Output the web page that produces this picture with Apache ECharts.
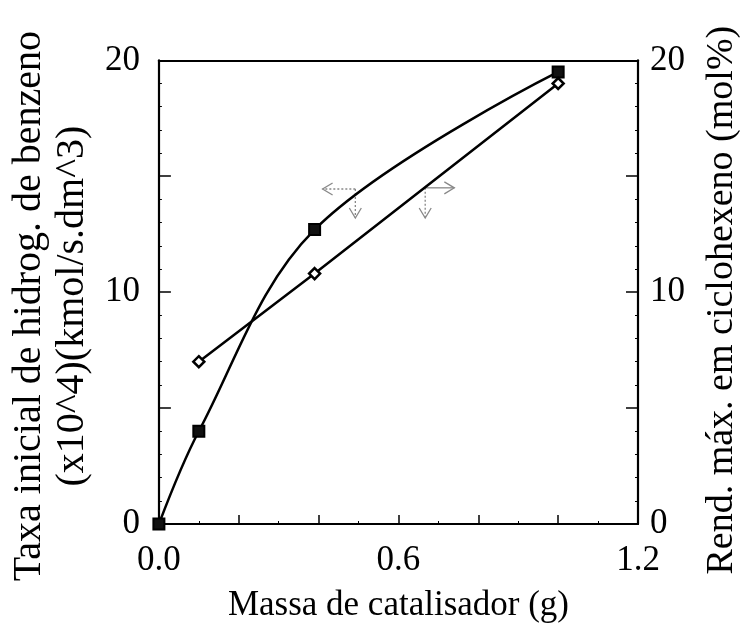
<!DOCTYPE html>
<html>
<head>
<meta charset="utf-8">
<script src="https://cdn.jsdelivr.net/npm/echarts@6/dist/echarts.min.js"></script>
<style>html,body{margin:0;padding:0;background:#fff}#c{width:749px;height:629px}</style>
</head>
<body>
<div id="c"></div>
<script>
// Data
const massa = [0.0, 0.1, 0.39, 1.0];              // x values (g) for rate series
const taxa = [0.0, 4.0, 12.7, 19.5];              // left axis: initial rate
const massaRend = [0.1, 0.39, 1.0];               // x values for yield series
const rend = [7.0, 10.8, 19.0];                   // right axis: max yield
const yTicks = [0, 10, 20];
const xTicks = [0.0, 0.6, 1.2];
// annotation arrows: [x0, y0, xEndHorizontal, yEndVertical]
const arrows = [
  [0.492, 14.45, 0.41, 13.2],
  [0.667, 14.5, 0.74, 13.2]
];

const FONT = 'Liberation Serif';
const chart = echarts.init(document.getElementById('c'), null, {renderer: 'canvas'});

const yLabelFmt = v => (yTicks.indexOf(v) >= 0 ? String(v) : '');
const xLabelFmt = v => {
  for (const t of xTicks) if (Math.abs(v - t) < 1e-6) return t.toFixed(1);
  return '';
};

const lineCol = '#000';
const axisLine = {show: true, onZero: false, lineStyle: {color: lineCol, width: 2.2}};
const minor = n => ({show: true, splitNumber: n, length: 3, lineStyle: {color: '#000', width: 1}});
const labelStyle = {color: '#000', fontFamily: FONT, fontSize: 35};

chart.setOption({
  animation: false,
  backgroundColor: '#fff',
  grid: {left: 156, top: 44, right: 109, bottom: 105, containLabel: false},
  xAxis: [
    {
      type: 'value', min: 0, max: 1.2, interval: 0.2, position: 'bottom',
      axisLine: axisLine,
      axisTick: {show: true, inside: true, length: 9, lineStyle: {color: '#000', width: 1.5}},
      minorTick: minor(2),
      splitLine: {show: false},
      axisLabel: Object.assign({}, labelStyle, {formatter: xLabelFmt, margin: 19, showMinLabel: true, showMaxLabel: true}),
      name: 'Massa de catalisador (g)', nameLocation: 'middle', nameGap: 64,
      nameTextStyle: {color: '#000', fontFamily: FONT, fontSize: 35}
    },
    {
      type: 'value', min: 0, max: 1.2, position: 'top',
      axisLine: axisLine,
      axisTick: {show: false}, axisLabel: {show: false}, splitLine: {show: false}
    }
  ],
  yAxis: [
    {
      type: 'value', min: 0, max: 20, interval: 5, position: 'left',
      axisLine: axisLine,
      axisTick: {show: true, inside: true, length: 12, lineStyle: {color: '#000', width: 1.5}},
      minorTick: minor(5),
      splitLine: {show: false},
      axisLabel: Object.assign({}, labelStyle, {formatter: yLabelFmt, margin: 19}),
      name: 'Taxa inicial de hidrog. de benzeno\n(x10^4)(kmol/s.dm^3)', nameLocation: 'middle', nameGap: 62,
      nameTextStyle: {color: '#000', fontFamily: FONT, fontSize: 40, lineHeight: 43, padding: [0, 28, 0, 0]}
    },
    {
      type: 'value', min: 0, max: 20, interval: 5, position: 'right',
      axisLine: axisLine,
      axisTick: {show: true, inside: true, length: 12, lineStyle: {color: '#000', width: 1.5}},
      minorTick: minor(5),
      splitLine: {show: false},
      axisLabel: Object.assign({}, labelStyle, {formatter: yLabelFmt, margin: 12}),
      name: 'Rend. máx. em ciclohexeno (mol%)', nameLocation: 'middle', nameGap: 65,
      nameRotate: 90,
      nameTextStyle: {color: '#000', fontFamily: FONT, fontSize: 38, padding: [0, 16, 0, 0]}
    }
  ],
  series: [
    {
      type: 'line', xAxisIndex: 0, yAxisIndex: 0,
      data: massa.map((x, i) => [x, taxa[i]]),
      smooth: 0.35, clip: false,
      symbol: 'rect', symbolSize: 11,
      itemStyle: {color: '#111', borderColor: '#000', borderWidth: 2},
      lineStyle: {color: '#000', width: 2.5}
    },
    {
      type: 'line', xAxisIndex: 0, yAxisIndex: 1,
      data: massaRend.map((x, i) => [x, rend[i]]),
      smooth: false, clip: false,
      symbol: 'diamond', symbolSize: 11,
      itemStyle: {color: '#fff', borderColor: '#000', borderWidth: 2.5},
      lineStyle: {color: '#000', width: 2.5}
    },
    {
      type: 'custom', xAxisIndex: 0, yAxisIndex: 0, silent: true,
      data: arrows,
      renderItem: function (params, api) {
        const p0 = api.coord([api.value(0), api.value(1)]);
        const ph = api.coord([api.value(2), api.value(1)]);
        const pv = api.coord([api.value(0), api.value(3)]);
        const dir = ph[0] < p0[0] ? 1 : -1;
        const st = {stroke: '#888', lineWidth: 1.3, fill: null};
        const dash = {stroke: '#888', lineWidth: 1.3, fill: null, lineDash: [2, 2]};
        return {
          type: 'group',
          children: [
            {type: 'line', shape: {x1: p0[0], y1: p0[1], x2: ph[0], y2: ph[1]}, style: dir > 0 ? dash : st},
            {type: 'polyline', shape: {points: [[ph[0] + dir * 10, ph[1] - 6], [ph[0], ph[1]], [ph[0] + dir * 10, ph[1] + 6]]}, style: st},
            {type: 'line', shape: {x1: p0[0], y1: p0[1], x2: pv[0], y2: pv[1]}, style: dash},
            {type: 'polyline', shape: {points: [[pv[0] - 6, pv[1] - 10], [pv[0], pv[1]], [pv[0] + 6, pv[1] - 10]]}, style: st}
          ]
        };
      }
    }
  ]
});
</script>
</body>
</html>
